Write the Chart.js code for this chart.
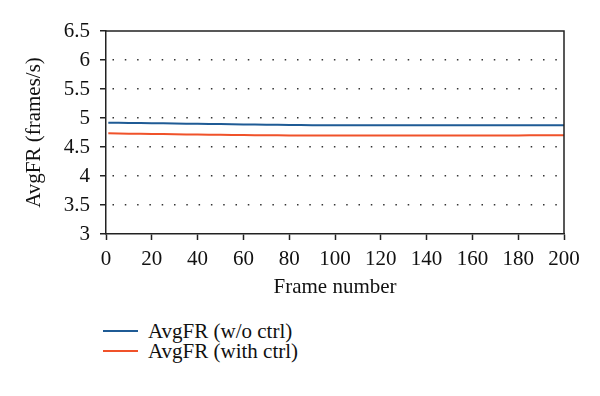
<!DOCTYPE html>
<html>
<head>
<meta charset="utf-8">
<script src="https://cdn.jsdelivr.net/npm/chart.js@4/dist/chart.umd.min.js"></script>
<style>
  html, body { margin: 0; padding: 0; background: #fff; }
  #wrap { position: relative; width: 600px; height: 396px; }
  #c { position: absolute; left: 0; top: 0; }
  #legend { position: absolute; left: 103px; top: 321px; font-family: "Liberation Serif", serif; font-size: 21px; color: #111; }
  .item { display: flex; align-items: center; height: 20px; }
  .swatch { display: inline-block; width: 35px; height: 0; border-top: 2px solid; margin-right: 10px; }
</style>
</head>
<body>
<div id="wrap">
  <canvas id="c" width="600" height="300"></canvas>
  <div id="legend"></div>
</div>
<script>
const frames = [1, 10, 20, 30, 40, 50, 60, 70, 80, 90, 100, 110, 120, 130, 140, 150, 160, 170, 180, 190, 200];
const avgNoCtrl = [4.92, 4.915, 4.91, 4.905, 4.90, 4.895, 4.89, 4.885, 4.88, 4.877, 4.875, 4.875, 4.875, 4.875, 4.875, 4.875, 4.875, 4.875, 4.875, 4.875, 4.875];
const avgWithCtrl = [4.735, 4.73, 4.725, 4.72, 4.715, 4.71, 4.705, 4.703, 4.70, 4.70, 4.70, 4.70, 4.70, 4.70, 4.70, 4.70, 4.70, 4.70, 4.70, 4.701, 4.702];
const xTicks = [0, 20, 40, 60, 80, 100, 120, 140, 160, 180, 200];
const yTicks = [3, 3.5, 4, 4.5, 5, 5.5, 6, 6.5];
const seriesNames = ["AvgFR (w/o ctrl)", "AvgFR (with ctrl)"];
const seriesColors = ["#1f5b95", "#f0522a"];

const FONT = { family: "'Liberation Serif', serif", size: 21 };
const TITLE_FONT = { family: "'Liberation Serif', serif", size: 21 };

const boxPlugin = {
  id: 'box',
  afterDraw(chart) {
    const a = chart.chartArea, ctx = chart.ctx;
    ctx.save();
    ctx.strokeStyle = '#222';
    ctx.lineWidth = 1.5;
    ctx.beginPath();
    ctx.moveTo(a.left, a.top);
    ctx.lineTo(a.right, a.top);
    ctx.lineTo(a.right, a.bottom);
    ctx.stroke();
    ctx.restore();
  }
};

const chart = new Chart(document.getElementById('c'), {
  type: 'line',
  data: {
    datasets: [
      { label: seriesNames[0], data: frames.map((f, i) => ({ x: f, y: avgNoCtrl[i] })), borderColor: seriesColors[0], borderWidth: 2, pointRadius: 0, tension: 0.3, fill: false },
      { label: seriesNames[1], data: frames.map((f, i) => ({ x: f, y: avgWithCtrl[i] })), borderColor: seriesColors[1], borderWidth: 2, pointRadius: 0, tension: 0.3, fill: false }
    ]
  },
  options: {
    responsive: false,
    animation: false,
    layout: { padding: { left: 0, right: 36, top: 31, bottom: 0 } },
    plugins: { legend: { display: false }, tooltip: { enabled: false } },
    scales: {
      x: {
        type: 'linear', min: 0, max: 200,
        afterBuildTicks: s => { s.ticks = xTicks.map(v => ({ value: v })); },
        afterFit: s => { s.height = 300 - 234; },
        ticks: { font: FONT, color: '#111', padding: 7, maxRotation: 0 },
        grid: { drawOnChartArea: false, tickLength: 6, tickColor: '#222', tickWidth: 1.5 },
        border: { color: '#222', width: 1.5 },
        title: { display: true, text: 'Frame number', font: TITLE_FONT, color: '#111', padding: { top: 2, bottom: 0 } }
      },
      y: {
        min: 3, max: 6.5,
        afterBuildTicks: s => { s.ticks = yTicks.map(v => ({ value: v })); },
        afterFit: s => { s.width = 106; },
        ticks: { font: FONT, color: '#111', padding: 10, callback: v => String(v) },
        grid: {
          color: c => (c.tick && (c.tick.value === 3 || c.tick.value === 6.5)) ? 'rgba(0,0,0,0)' : '#333',
          lineWidth: 1.5,
          tickLength: 6, tickColor: '#222', tickWidth: 1.5, tickBorderDash: []
        },
        border: { color: '#222', width: 1.5, dash: [1.5, 10.8], dashOffset: -6 },
        title: { display: true, text: 'AvgFR (frames/s)', font: TITLE_FONT, color: '#111', padding: { top: 22, bottom: 0 } }
      }
    }
  },
  plugins: [boxPlugin]
});

const leg = document.getElementById('legend');
chart.data.datasets.forEach(ds => {
  const it = document.createElement('div');
  it.className = 'item';
  const sw = document.createElement('span');
  sw.className = 'swatch';
  sw.style.borderColor = ds.borderColor;
  const tx = document.createElement('span');
  tx.textContent = ds.label;
  it.appendChild(sw); it.appendChild(tx);
  leg.appendChild(it);
});
</script>
</body>
</html>
